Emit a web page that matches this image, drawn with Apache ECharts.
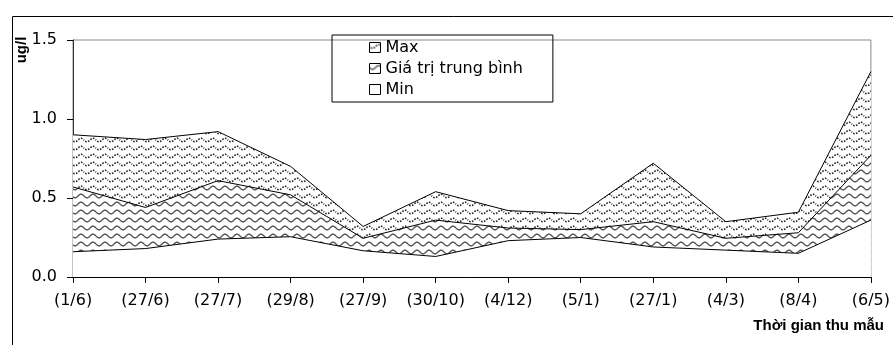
<!DOCTYPE html>
<html>
<head>
<meta charset="utf-8">
<script src="https://cdn.jsdelivr.net/npm/echarts@6/dist/echarts.min.js"></script>
<style>html,body{margin:0;padding:0;background:#fff}#c{width:893px;height:345px}</style>
</head>
<body>
<div id="c"></div>
<script>
var categories = ['(1/6)','(27/6)','(27/7)','(29/8)','(27/9)','(30/10)','(4/12)','(5/1)','(27/1)','(4/3)','(8/4)','(6/5)'];
var maxValues = [0.90, 0.87, 0.92, 0.70, 0.32, 0.54, 0.42, 0.40, 0.72, 0.35, 0.41, 1.30];
var avgValues = [0.57, 0.44, 0.61, 0.52, 0.245, 0.36, 0.31, 0.30, 0.35, 0.245, 0.28, 0.77];
var minValues = [0.16, 0.18, 0.24, 0.255, 0.166, 0.13, 0.23, 0.25, 0.19, 0.17, 0.15, 0.36];
var yTicks = [0, 0.5, 1.0, 1.5];
var seriesNames = ['Max', 'Giá trị trung bình', 'Min'];

function wavePattern(dashed) {
  var c = document.createElement('canvas');
  c.width = 12; c.height = 8;
  var g = c.getContext('2d');
  g.fillStyle = '#fff'; g.fillRect(0, 0, 12, 8);
  g.strokeStyle = dashed ? '#222' : '#555';
  g.lineWidth = dashed ? 1.6 : 1.4;
  if (dashed) g.setLineDash([1.6, 1.4]);
  g.beginPath();
  for (var x = -1; x <= 13; x += 0.5) {
    var y = 4 + 1.8 * Math.sin(2 * Math.PI * x / 12);
    if (x === -1) g.moveTo(x, y); else g.lineTo(x, y);
  }
  g.stroke();
  return { image: c, repeat: 'repeat' };
}
var patMax = wavePattern(true);
var patAvg = wavePattern(false);

var chart = echarts.init(document.getElementById('c'), null, { renderer: 'canvas' });
var font = 'DejaVu Sans';
chart.setOption({
  animation: false,
  backgroundColor: '#fff',
  grid: { left: 73, right: 22, top: 40, bottom: 68, show: true, borderColor: '#888', borderWidth: 1 },
  legend: {
    left: 332, top: 35, orient: 'vertical',
    borderColor: '#000', borderWidth: 1,
    padding: [2, 30, 2, 37],
    itemGap: 0, itemWidth: 11, itemHeight: 10, icon: 'rect',
    textStyle: { fontFamily: font, fontSize: 16, color: '#000', lineHeight: 21 },
    data: [
      { name: seriesNames[0], itemStyle: { color: patMax, borderColor: '#000', borderWidth: 1 } },
      { name: seriesNames[1], itemStyle: { color: patAvg, borderColor: '#000', borderWidth: 1 } },
      { name: seriesNames[2], itemStyle: { color: '#fff', borderColor: '#000', borderWidth: 1 } }
    ]
  },
  xAxis: {
    type: 'category', data: categories, boundaryGap: false,
    axisLine: { lineStyle: { color: '#000', width: 1 } },
    axisTick: { show: true, length: 6, lineStyle: { color: '#000' } },
    axisLabel: { interval: 0, margin: 16, fontFamily: font, fontSize: 16, color: '#000' },
    splitLine: { show: false }
  },
  yAxis: {
    type: 'value', min: yTicks[0], max: yTicks[yTicks.length - 1], interval: 0.5,
    axisLine: { show: true, lineStyle: { color: '#333', width: 1 } },
    axisTick: { show: true, length: 6, lineStyle: { color: '#000' } },
    axisLabel: { margin: 16, fontFamily: font, fontSize: 16, color: '#000', formatter: function (v) { return v.toFixed(1); } },
    splitLine: { show: false }
  },
  series: [
    { name: seriesNames[0], type: 'line', data: maxValues, showSymbol: false, symbol: 'none',
      lineStyle: { color: '#000', width: 1 }, itemStyle: { color: '#000' }, areaStyle: { color: patMax, opacity: 1 } },
    { name: seriesNames[1], type: 'line', data: avgValues, showSymbol: false, symbol: 'none',
      lineStyle: { color: '#000', width: 1 }, itemStyle: { color: '#000' }, areaStyle: { color: patAvg, opacity: 1 } },
    { name: seriesNames[2], type: 'line', data: minValues, showSymbol: false, symbol: 'none',
      lineStyle: { color: '#000', width: 1 }, itemStyle: { color: '#000' }, areaStyle: { color: '#fff', opacity: 1 } }
  ],
  graphic: [
    { type: 'rect', left: 10, top: 14, silent: true, z: -10,
      shape: { x: 0.5, y: 0.5, width: 900, height: 400 }, style: { fill: null, stroke: '#000', lineWidth: 1 } },
    { type: 'text', x: 22, y: 50, rotation: Math.PI / 2, silent: true,
      style: { text: 'ug/l', font: 'bold 15px "Liberation Sans", Arial', fill: '#000', align: 'center', verticalAlign: 'middle' } },
    { type: 'text', x: 884, y: 326, silent: true,
      style: { text: 'Thời gian thu mẫu', font: 'bold 15px "Liberation Sans", Arial', fill: '#000', align: 'right', verticalAlign: 'middle' } }
  ]
});
</script>
</body>
</html>
